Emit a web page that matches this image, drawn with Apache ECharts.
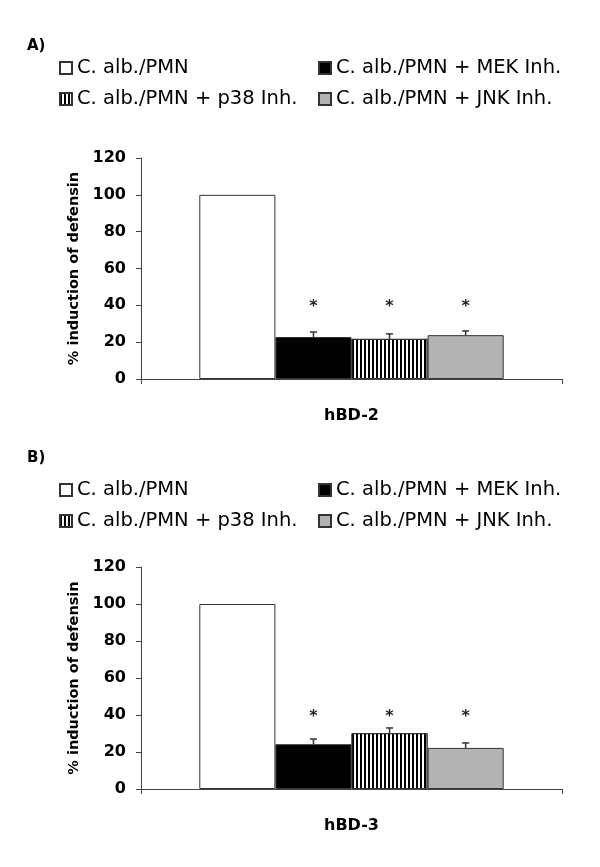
<!DOCTYPE html>
<html><head><meta charset="utf-8">
<script src="https://cdn.jsdelivr.net/npm/echarts@6/dist/echarts.min.js"></script>
<style>html,body{margin:0;padding:0;background:#fff}#c{width:600px;height:867px}</style>
</head><body><div id="c"></div>
<script>
// ---------- data ----------
const seriesNames = ['C. alb./PMN', 'C. alb./PMN + MEK Inh.', 'C. alb./PMN + p38 Inh.', 'C. alb./PMN + JNK Inh.'];
const panelLabels = ['A)', 'B)'];
const categoriesA = ['hBD-2'];
const categoriesB = ['hBD-3'];
const meanA = [100, 22.8, 21.8, 23.8];
const errA = [0, 2.7, 2.7, 2.3];
const meanB = [100, 24.2, 30.2, 22.2];
const errB = [0, 2.8, 2.8, 2.7];
const significantA = [false, true, true, true];
const significantB = [false, true, true, true];
const yMin = 0, yMax = 120, yInterval = 20;
const yAxisTitle = '% induction of defensin';
const STAR_LEVEL = 40;

// ---------- style / layout ----------
const FONT = 'DejaVu Sans';
const GAP = 0.277;
const stripeDecal = { symbol: 'rect', symbolSize: 1, dashArrayX: [2, 2], dashArrayY: [4, 0], rotation: 0, color: '#000' };
const barStyles = [
  { color: '#ffffff', borderColor: '#333', borderWidth: 1 },
  { color: '#000000', borderColor: '#333', borderWidth: 1 },
  { color: '#ffffff', borderColor: '#333', borderWidth: 1, decal: stripeDecal },
  { color: '#b3b3b3', borderColor: '#333', borderWidth: 1 }
];
const panels = [
  { cats: categoriesA, mean: meanA, err: errA, sig: significantA, gridTop: 158, gridH: 221, labelTop: 39, legendRows: [68, 99] },
  { cats: categoriesB, mean: meanB, err: errB, sig: significantB, gridTop: 567, gridH: 222, labelTop: 451, legendRows: [490, 521] }
];
const legendCols = [59, 318];

const chart = echarts.init(document.getElementById('c'), null, { renderer: 'canvas' });

const grid = [], xAxis = [], yAxis = [], series = [], legend = [], title = [];
panels.forEach((p, pi) => {
  grid.push({ left: 141, right: 38, top: p.gridTop, height: p.gridH });
  xAxis.push({
    type: 'category', gridIndex: pi, data: p.cats,
    axisLine: { lineStyle: { color: '#444', width: 1 } },
    axisTick: { show: true, length: 5, lineStyle: { color: '#444' } },
    axisLabel: { margin: 29, color: '#000', fontFamily: FONT, fontWeight: 'bold', fontSize: 16 }
  });
  yAxis.push({
    type: 'value', gridIndex: pi, min: yMin, max: yMax, interval: yInterval,
    name: yAxisTitle, nameLocation: 'middle', nameRotate: 90, nameGap: 56,
    nameTextStyle: { color: '#000', fontFamily: FONT, fontWeight: 'bold', fontSize: 14.5 },
    axisLine: { show: true, lineStyle: { color: '#444', width: 1 } },
    axisTick: { show: true, length: 5, lineStyle: { color: '#444' } },
    splitLine: { show: false },
    axisLabel: { margin: 15, color: '#000', fontFamily: FONT, fontWeight: 'bold', fontSize: 16 }
  });
  seriesNames.forEach((name, si) => {
    series.push({
      name, type: 'bar', xAxisIndex: pi, yAxisIndex: pi,
      data: [p.mean[si]], barGap: '0%', barCategoryGap: (GAP * 100) + '%',
      itemStyle: barStyles[si], emphasis: { disabled: true }, animation: false
    });
  });
  const errData = p.mean.map((m, i) => [0, m, m + p.err[i], p.sig[i] ? 1 : 0]);
  series.push({
    type: 'custom', xAxisIndex: pi, yAxisIndex: pi, data: errData, z: 10,
    encode: { x: 0, y: 2 }, animation: false, silent: true,
    renderItem: function (params, api) {
      const i = params.dataIndex;
      const band = api.size([1, 0])[0];
      const bw = band * (1 - GAP) / seriesNames.length;
      const cx = api.coord([0, 0])[0] + (i - (seriesNames.length - 1) / 2) * bw;
      const yM = api.coord([0, api.value(1)])[1];
      const yT = api.coord([0, api.value(2)])[1];
      const children = [];
      if (api.value(2) > api.value(1)) {
        children.push({ type: 'line', shape: { x1: cx, y1: yM, x2: cx, y2: yT }, style: { stroke: '#333', lineWidth: 1.5 } });
        children.push({ type: 'line', shape: { x1: cx - 3.5, y1: yT, x2: cx + 3.5, y2: yT }, style: { stroke: '#333', lineWidth: 1.5 } });
      }
      if (api.value(3)) {
        const ys = api.coord([0, STAR_LEVEL])[1];
        children.push({ type: 'text', x: cx, y: ys + 2, style: { text: '*', fill: '#222', font: 'bold 16px ' + FONT, textAlign: 'center', textVerticalAlign: 'middle' } });
      }
      return { type: 'group', children };
    }
  });
  seriesNames.forEach((name, si) => {
    const col = si === 0 || si === 2 ? 0 : 1;
    const row = si < 2 ? 0 : 1;
    legend.push({
      data: [name], left: legendCols[col], top: p.legendRows[row] - 10,
      icon: 'rect', itemWidth: 12, itemHeight: 12, padding: 0, selectedMode: false,
      textStyle: { color: '#000', fontFamily: FONT, fontSize: 19.5 }
    });
  });
  title.push({ text: panelLabels[pi], left: 27, top: p.labelTop, padding: 0,
    textStyle: { color: '#000', fontFamily: FONT, fontWeight: 'bold', fontSize: 15 } });
});

chart.setOption({ animation: false, backgroundColor: '#fff', title, legend, grid, xAxis, yAxis, series });
</script>
</body></html>
